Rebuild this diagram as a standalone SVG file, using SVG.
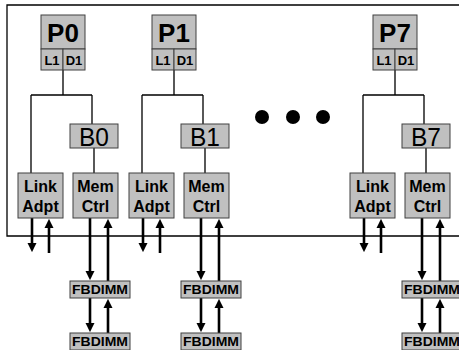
<svg xmlns="http://www.w3.org/2000/svg" width="459" height="350" viewBox="0 0 459 350">
<defs>
<style>
.box{fill:#c0c0c0;stroke:#404040;stroke-width:1}
.ln{fill:none;stroke:#000;stroke-width:1.3}
.ar{fill:none;stroke:#000;stroke-width:2.6;marker-end:url(#ah)}
.t{font-family:"Liberation Sans",Arial,sans-serif;fill:#000;text-anchor:middle}
.b{font-weight:bold}
.p{font-size:26px;font-weight:bold}
.c{font-size:13px;font-weight:bold}
.bn{font-size:26px}
.m{font-size:16px;font-weight:bold}
.f{font-size:12px;font-weight:bold}
</style>
<marker id="ah" viewBox="0 0 10 10" refX="1" refY="5" markerWidth="9" markerHeight="10" markerUnits="userSpaceOnUse" orient="auto">
<path d="M0,0 L10,5 L0,10 z" fill="#000"/>
</marker>
<g id="conTpl">
<path class="ln" d="M63,70 V95 M31,95 H92 M31,95 V173 M92,95 V124 M94,148 V173"/>
<path class="ar" d="M32,218 V244"/>
<path class="ar" d="M49,253 V227"/>
<path class="ar" d="M90,218 V272"/>
<path class="ar" d="M108,281 V227"/>
<path class="ar" d="M90,298 V324"/>
<path class="ar" d="M108,333 V307"/>
</g>
</defs>
<g id="frame"><path class="ln" d="M459,5 H7 V236 H459"/></g>
<g id="connectors">
<use href="#conTpl"/>
<use href="#conTpl" transform="translate(111,0)"/>
<use href="#conTpl" transform="translate(332,0)"/>
</g>
<g id="P0">
<rect class="box" x="41" y="15" width="44" height="34"/>
<rect class="box" x="41" y="49" width="22" height="21"/>
<rect class="box" x="63" y="49" width="22" height="21"/>
<text class="t p" x="63" y="42">P0</text>
<text class="t c" x="52" y="64.5">L1</text>
<text class="t c" x="74" y="64.5">D1</text>
</g>
<g id="P1">
<rect class="box" x="152" y="15" width="44" height="34"/>
<rect class="box" x="152" y="49" width="22" height="21"/>
<rect class="box" x="174" y="49" width="22" height="21"/>
<text class="t p" x="174" y="42">P1</text>
<text class="t c" x="163" y="64.5">L1</text>
<text class="t c" x="185" y="64.5">D1</text>
</g>
<g id="P7">
<rect class="box" x="373" y="15" width="44" height="34"/>
<rect class="box" x="373" y="49" width="22" height="21"/>
<rect class="box" x="395" y="49" width="22" height="21"/>
<text class="t p" x="395" y="42">P7</text>
<text class="t c" x="384" y="64.5">L1</text>
<text class="t c" x="406" y="64.5">D1</text>
</g>
<g id="dots"><circle cx="262" cy="117" r="7"/><circle cx="293" cy="117" r="7"/><circle cx="323" cy="117" r="7"/></g>
<g id="B0"><rect class="box" x="70" y="124" width="48" height="24"/><text class="t bn" x="94" y="146" textLength="30" lengthAdjust="spacingAndGlyphs">B0</text></g>
<g id="B1"><rect class="box" x="181" y="124" width="48" height="24"/><text class="t bn" x="205" y="146" textLength="30" lengthAdjust="spacingAndGlyphs">B1</text></g>
<g id="B7"><rect class="box" x="402" y="124" width="48" height="24"/><text class="t bn" x="426" y="146" textLength="30" lengthAdjust="spacingAndGlyphs">B7</text></g>
<g id="LA0"><rect class="box" x="18" y="173" width="45" height="45"/><text class="t m" x="40.5" y="192">Link</text><text class="t m" x="40.5" y="212">Adpt</text></g>
<g id="MC0"><rect class="box" x="73" y="173" width="45" height="45"/><text class="t m" x="95.5" y="192">Mem</text><text class="t m" x="95.5" y="212">Ctrl</text></g>
<g id="LA1"><rect class="box" x="129" y="173" width="45" height="45"/><text class="t m" x="151.5" y="192">Link</text><text class="t m" x="151.5" y="212">Adpt</text></g>
<g id="MC1"><rect class="box" x="184" y="173" width="45" height="45"/><text class="t m" x="206.5" y="192">Mem</text><text class="t m" x="206.5" y="212">Ctrl</text></g>
<g id="LA7"><rect class="box" x="350" y="173" width="45" height="45"/><text class="t m" x="372.5" y="192">Link</text><text class="t m" x="372.5" y="212">Adpt</text></g>
<g id="MC7"><rect class="box" x="405" y="173" width="45" height="45"/><text class="t m" x="427.5" y="192">Mem</text><text class="t m" x="427.5" y="212">Ctrl</text></g>
<g id="FB0a"><rect class="box" x="70" y="281" width="60" height="17"/><text class="t f" x="100" y="294" textLength="56" lengthAdjust="spacingAndGlyphs">FBDIMM</text></g>
<g id="FB0b"><rect class="box" x="70" y="333" width="60" height="17"/><text class="t f" x="100" y="346" textLength="56" lengthAdjust="spacingAndGlyphs">FBDIMM</text></g>
<g id="FB1a"><rect class="box" x="181" y="281" width="60" height="17"/><text class="t f" x="211" y="294" textLength="56" lengthAdjust="spacingAndGlyphs">FBDIMM</text></g>
<g id="FB1b"><rect class="box" x="181" y="333" width="60" height="17"/><text class="t f" x="211" y="346" textLength="56" lengthAdjust="spacingAndGlyphs">FBDIMM</text></g>
<g id="FB7a"><rect class="box" x="402" y="281" width="60" height="17"/><text class="t f" x="432" y="294" textLength="56" lengthAdjust="spacingAndGlyphs">FBDIMM</text></g>
<g id="FB7b"><rect class="box" x="402" y="333" width="60" height="17"/><text class="t f" x="432" y="346" textLength="56" lengthAdjust="spacingAndGlyphs">FBDIMM</text></g>
</svg>
